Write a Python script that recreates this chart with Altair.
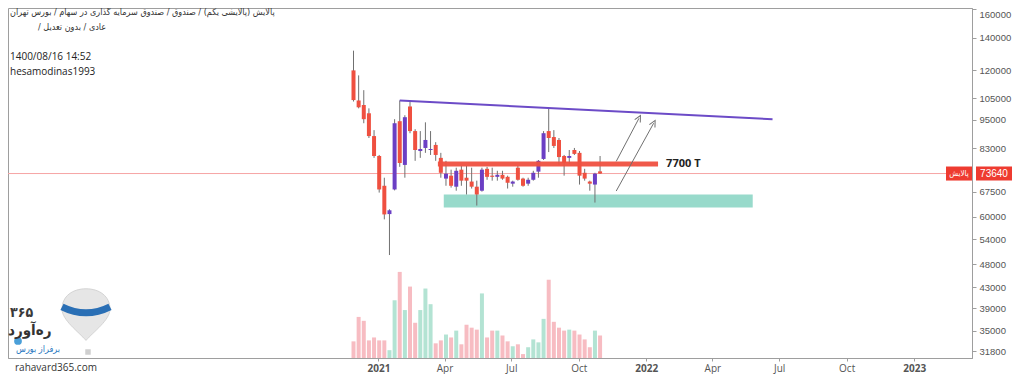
import altair as alt
import pandas as pd

# ---------------- data ----------------
dates = pd.date_range("2020-11-28", periods=49, freq="7D").strftime("%Y-%m-%d").tolist()
opens = [119900, 104000, 101800, 97900, 87900, 80000, 69500, 60800, 68300, 94300,
         76700, 101100, 90000, 81900, 83100, 82300, 84300, 79300, 71900, 72900,
         69200, 75000, 72200, 70900, 69200, 67900, 75300, 72900, 72500, 73200,
         72500, 70200, 75700, 71900, 70200, 71500, 74300, 78900, 90000, 87500,
         86300, 80000, 79300, 82300, 81200, 73900, 70900, 69900, 74400]
highs = [131600, 117100, 109200, 100200, 90400, 80400, 72200, 62200, 95200, 104000,
         97000, 104000, 90800, 90000, 93800, 90000, 85400, 81200, 78200, 75000,
         75700, 76400, 76400, 75700, 71200, 75700, 76000, 75700, 74600, 74600,
         72900, 71200, 76400, 72200, 72200, 74600, 78500, 90000, 100200, 90400,
         87100, 80400, 82300, 83100, 81900, 75300, 71200, 73900, 80000]
lows = [103500, 100200, 93400, 87100, 79300, 67300, 59300, 50100, 68000, 76000,
        72200, 89100, 78200, 79300, 81200, 80400, 78200, 72200, 69500, 68900,
        67900, 69500, 66700, 68600, 63300, 67600, 71500, 71200, 71200, 71500,
        68600, 69200, 71200, 69200, 69500, 71200, 72200, 78500, 81500, 83100,
        76700, 72900, 77100, 80400, 69900, 71200, 67900, 64200, 73500]
closes = [104200, 100700, 95200, 87900, 80000, 68300, 60700, 61900, 93400, 77400,
          96100, 90000, 82300, 82700, 86300, 82700, 80400, 73900, 73600, 69500,
          74600, 71200, 71200, 69200, 66700, 75000, 72500, 72500, 73200, 71900,
          70500, 70900, 71500, 69500, 71500, 73900, 78200, 89100, 87100, 83900,
          79600, 77400, 80000, 80800, 72900, 71900, 70200, 73600, 73640]
volumes = [17, 42, 38, 18, 21, 18, 18, 8, 59, 88,
           49, 73, 36, 49, 71, 55, 15, 18, 24, 21,
           28, 14, 34, 31, 29, 66, 21, 28, 28, 23,
           17, 12, 14, 4, 11, 19, 16, 40, 80, 37,
           31, 28, 29, 28, 24, 19, 11, 28, 23]

last_price = 73640

trend_dates = ["2021-01-30", "2022-06-22"]
trend_prices = [104000, 95200]

res_dates = ["2021-03-23", "2022-01-17"]
res_price = 77000
res_label = "7700 T"
res_label_date = "2022-01-28"

box_dates = ["2021-03-31", "2022-05-26"]
box_prices = [62700, 66700]

arrow_start_dates = ["2021-11-21", "2021-11-21"]
arrow_start_prices = [78000, 67800]
arrow_end_dates = ["2021-12-22", "2022-01-11"]
arrow_end_prices = [95600, 93400]

y_ticks = [31800, 35000, 39000, 43000, 48000, 54000, 60000, 67500,
           83000, 95000, 105000, 120000, 140000, 160000]

header1 = "پالایش (پالایشی یکم) / صندوق / صندوق سرمایه گذاری در سهام / بورس تهران"
header2 = "عادی / بدون تعدیل /\u200f"
stamp = "1400/08/16 14:52"
author = "hesamodinas1993"
symbol_tag = "پالایش"

# ---------------- styling ----------------
RED = "#ef5040"
PURPLE = "#6b3fc4"
WICK = "#707070"
VOL_RED = "#f7bcc2"
VOL_GREEN = "#b3e3d3"
W = 964
H = 350
FA = "DejaVu Sans Condensed, DejaVu Sans"
AX = "Liberation Sans"

df = pd.DataFrame(dict(date=dates, open=opens, high=highs, low=lows,
                       close=closes, volume=volumes))

xscale = alt.Scale(domain=["2019-08-22", "2023-03-14"])
tick_dates = [alt.DateTime(year=y, month=m, date=1)
              for y, ms in [(2021, [1, 4, 7, 10]), (2022, [1, 4, 7, 10]), (2023, [1])]
              for m in ms]
xaxis = alt.Axis(values=tick_dates, title=None, grid=False, tickSize=3,
                 labelPadding=2, labelFontSize=10, labelColor="#555",
                 labelFont="Open Sans", domainColor="#9e9e9e", tickColor="#9e9e9e",
                 labelExpr="month(datum.value) == 0 ? timeFormat(datum.value, '%Y') : timeFormat(datum.value, '%b')",
                 labelFontWeight={"condition": {"test": "month(datum.value) == 0", "value": "bold"},
                                  "value": "normal"})
yscale = alt.Scale(type="log", domain=[30800, 161000], nice=False)
yaxis = alt.Axis(orient="right", values=y_ticks, format="d", title=None, grid=False,
                 tickSize=4, labelPadding=3, labelFontSize=9.5, labelColor="#555",
                 labelFont=AX, labelFlush=6, domainColor="#9e9e9e", tickColor="#9e9e9e")


def X(f):
    return alt.X(f, type="temporal", scale=xscale, axis=xaxis)


def Y(f):
    return alt.Y(f, type="quantitative", scale=yscale, axis=yaxis)


up = "datum.close >= datum.open"

volume = alt.Chart(df).mark_bar(width=4).encode(
    x=X("date"),
    y=alt.Y("volume:Q", scale=alt.Scale(domain=[0, max(volumes) / 0.246]), axis=None),
    color=alt.condition(up, alt.value(VOL_GREEN), alt.value(VOL_RED)),
)

wicks = alt.Chart(df).mark_rule(strokeWidth=1, color=WICK).encode(
    x=X("date"), y=Y("low"), y2="high")
bodies = alt.Chart(df).mark_bar(width=4).encode(
    x=X("date"), y=Y("open"), y2="close",
    color=alt.condition(up, alt.value(PURPLE), alt.value(RED)))

price_line = alt.Chart(pd.DataFrame({"p": [last_price]})).mark_rule(
    color="#f6a5a5", strokeWidth=1).encode(y=Y("p"))

box_df = pd.DataFrame({"d1": [box_dates[0]], "d2": [box_dates[1]],
                       "p1": [box_prices[0]], "p2": [box_prices[1]]})
box = alt.Chart(box_df).mark_rect(color="#98dacb").encode(
    x=X("d1"), x2="d2", y=Y("p1"), y2="p2")

trend_df = pd.DataFrame({"d1": [trend_dates[0]], "d2": [trend_dates[1]],
                         "p1": [trend_prices[0]], "p2": [trend_prices[1]]})
trend = alt.Chart(trend_df).mark_rule(color="#6c4bc7", strokeWidth=2).encode(
    x=X("d1"), x2="d2", y=Y("p1"), y2="p2")

res_df = pd.DataFrame({"d1": [res_dates[0]], "d2": [res_dates[1]], "p": [res_price]})
res = alt.Chart(res_df).mark_rule(color=RED, strokeWidth=5, opacity=0.95).encode(
    x=X("d1"), x2="d2", y=Y("p"))
res_text = alt.Chart(pd.DataFrame({"d": [res_label_date], "p": [res_price], "t": [res_label]})).mark_text(
    align="left", baseline="middle", fontSize=11, fontWeight="bold", font="Open Sans",
    color="#222").encode(x=X("d"), y=Y("p"), text="t")

arrow_df = pd.DataFrame({"d1": arrow_start_dates, "p1": arrow_start_prices,
                         "d2": arrow_end_dates, "p2": arrow_end_prices})
arrows = alt.Chart(arrow_df).mark_rule(color="#707070", strokeWidth=1).encode(
    x=X("d1"), x2="d2", y=Y("p1"), y2="p2")
heads = alt.Chart(arrow_df).mark_point(
    shape="M-1,1L0,-1L1,1", size=40, filled=False, stroke="#707070",
    strokeWidth=1, angle=28, opacity=1).encode(x=X("d2"), y=Y("p2"))

tag_df = pd.DataFrame({"p": [last_price], "t": [str(last_price)], "s": [symbol_tag]})
tag_box = alt.Chart(tag_df).mark_point(
    shape="M-1,-0.39L1,-0.39L1,0.39L-1,0.39Z", size=1296, filled=True,
    color="#ee3b30", opacity=1).encode(x=alt.value(W + 22), y=Y("p"))
tag_text = alt.Chart(tag_df).mark_text(
    color="white", fontSize=10, font=AX, align="center", baseline="middle").encode(
    x=alt.value(W + 22), y=Y("p"), text="t")
sym_box = alt.Chart(tag_df).mark_point(
    shape="M-1,-0.54L1,-0.54L1,0.54L-1,0.54Z", size=676, filled=True,
    color="#ee3b30", opacity=1).encode(x=alt.value(W - 13), y=Y("p"))
sym_text = alt.Chart(tag_df).mark_text(
    color="white", fontSize=8, font=FA, align="center", baseline="middle").encode(
    x=alt.value(W - 13), y=Y("p"), text="s")

price = alt.layer(box, price_line, wicks, bodies, trend, res, res_text,
                  arrows, heads, sym_box, sym_text, tag_box, tag_text)

one = pd.DataFrame({"a": [0]})


def label(txt, x, y, size, color="#333", font=FA, weight="normal",
          align="left", baseline="middle"):
    return alt.Chart(one).mark_text(
        text=txt, fontSize=size, font=font, fontWeight=weight, color=color,
        align=align, baseline=baseline).encode(x=alt.value(x), y=alt.value(y))


headers = [
    label(header1, 2, 4, 9, color="#333"),
    label(header2, 30, 19, 9, color="#333"),
    label(stamp, 2, 49, 10, color="#222", font="Open Sans"),
    label(author, 2, 64, 10, color="#222", font="Open Sans"),
]

# logo (bottom left)
balloon = alt.Chart(one).mark_point(
    shape="M0,1.1C-0.3,0.75 -1,0.25 -1,-0.2C-1,-0.75 -0.55,-1.05 0,-1.05C0.55,-1.05 1,-0.75 1,-0.2C1,0.25 0.3,0.75 0,1.1Z",
    size=2304, filled=True, color="#e6e6e6", opacity=1,
    stroke="#d4d4d4", strokeWidth=1).encode(x=alt.value(78), y=alt.value(306))
band = alt.Chart(one).mark_point(
    shape="M-1,-0.3Q0,0.2 1,-0.3", size=2304, filled=False,
    stroke="#2a6fb5", strokeWidth=7, opacity=1).encode(x=alt.value(78), y=alt.value(306))
basket = alt.Chart(one).mark_point(
    shape="square", size=30, filled=True, color="#cfcfcf", opacity=1).encode(
    x=alt.value(80), y=alt.value(344))
cloud = alt.Chart(one).mark_point(
    shape="circle", size=60, filled=True, color="#4a9fd8", opacity=1).encode(
    x=alt.value(10), y=alt.value(333))
logo = [
    balloon, band, basket, cloud,
    label("۳۶۵", 2, 305, 14, color="#3a3a3a", weight="bold"),
    label("ره‌آورد", 0, 322, 15, color="#333", weight="bold"),
    label("برفراز بورس", 8, 341, 9, color="#2a78c0"),
    label("rahavard365.com", 7, 360, 10, color="#333", font="Open Sans"),
]

chart = alt.layer(volume, price, *headers, *logo).resolve_scale(
    y="independent").properties(
    width=W, height=H,
    autosize=alt.AutoSizeParams(type="none"),
    padding={"left": 0, "top": 0, "right": 44, "bottom": 16},
).configure_view(stroke="#9e9e9e", strokeWidth=1)

chart.save("out.html", embed_options={"renderer": "svg", "actions": False})
